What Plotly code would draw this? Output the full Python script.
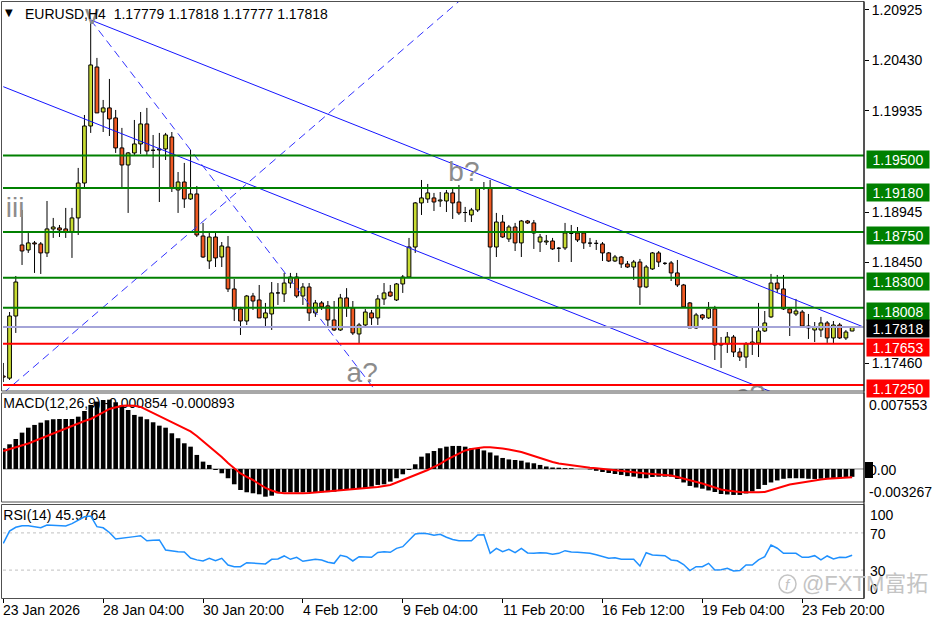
import plotly.graph_objects as go

# ---------------- data ----------------
symbol = "EURUSD,H4"
last_ohlc = [1.17779, 1.17818, 1.17777, 1.17818]

opens = [
    1.17338, 1.17317, 1.17926, 1.18622, 1.18573, 1.18642, 1.18632, 1.18544, 1.18779, 1.18789,
    1.18779, 1.18749, 1.18887, 1.19229, 1.19788, 1.20366, 1.19925, 1.19965, 1.19867, 1.19573,
    1.19406, 1.19524, 1.19612, 1.19808, 1.19553, 1.19553, 1.19563, 1.19680, 1.19161, 1.19239,
    1.19073, 1.19122, 1.18710, 1.18465, 1.18700, 1.18504, 1.18602, 1.18191, 1.17995, 1.17877,
    1.18122, 1.18083, 1.17907, 1.17946, 1.18152, 1.18142, 1.18249, 1.18308, 1.18122, 1.18210,
    1.17956, 1.18054, 1.18025, 1.17887, 1.17789, 1.18103, 1.18005, 1.17750, 1.17838, 1.17956,
    1.17907, 1.18093, 1.18161, 1.18083, 1.18240, 1.18308, 1.18602, 1.19034, 1.19073, 1.19083,
    1.19053, 1.19053, 1.19132, 1.19043, 1.18945, 1.18916, 1.18965, 1.19181, 1.19181, 1.18602,
    1.18847, 1.18681, 1.18798, 1.18642, 1.18857, 1.18838, 1.18651, 1.18651, 1.18661, 1.18593,
    1.18593, 1.18739, 1.18739, 1.18739, 1.18642, 1.18642, 1.18632, 1.18544, 1.18465, 1.18504,
    1.18436, 1.18406, 1.18455, 1.18210, 1.18387, 1.18544, 1.18446, 1.18446, 1.18348, 1.18230,
    1.18054, 1.17809, 1.17936, 1.17907, 1.17995, 1.17652, 1.17652, 1.17720, 1.17573, 1.17524,
    1.17652, 1.17662, 1.17779, 1.17917, 1.18249, 1.18191, 1.17995, 1.17946, 1.17965, 1.17828,
    1.17789, 1.17789, 1.17858, 1.17711, 1.17838, 1.17711, 1.17779,
]
highs = [
    1.17466, 1.17965, 1.18318, 1.18965, 1.18739, 1.18661, 1.18651, 1.19053, 1.18887, 1.18818,
    1.18985, 1.18985, 1.19377, 1.19896, 1.20827, 1.20455, 1.20043, 1.20249, 1.19945, 1.19769,
    1.19533, 1.19847, 1.19925, 1.19965, 1.19700, 1.19720, 1.19720, 1.19729, 1.19337, 1.19426,
    1.19553, 1.19200, 1.18838, 1.18739, 1.18739, 1.18651, 1.18710, 1.18289, 1.18015, 1.18132,
    1.18152, 1.18230, 1.18054, 1.18259, 1.18249, 1.18348, 1.18348, 1.18348, 1.18249, 1.18249,
    1.18083, 1.18073, 1.18073, 1.18073, 1.18142, 1.18199, 1.18073, 1.17858, 1.17995, 1.17985,
    1.18132, 1.18249, 1.18230, 1.18249, 1.18328, 1.18691, 1.19043, 1.19259, 1.19220, 1.19132,
    1.19141, 1.19161, 1.19181, 1.19210, 1.18995, 1.18985, 1.19190, 1.19239, 1.19259, 1.18936,
    1.18916, 1.18818, 1.18838, 1.18867, 1.18867, 1.18867, 1.18730, 1.18720, 1.18691, 1.18602,
    1.18838, 1.18818, 1.18798, 1.18739, 1.18691, 1.18671, 1.18651, 1.18553, 1.18524, 1.18514,
    1.18465, 1.18475, 1.18485, 1.18426, 1.18553, 1.18563, 1.18455, 1.18465, 1.18475, 1.18240,
    1.18063, 1.17956, 1.17946, 1.18063, 1.18025, 1.17720, 1.17769, 1.17740, 1.17613, 1.17671,
    1.17809, 1.18054, 1.17975, 1.18338, 1.18328, 1.18328, 1.18005, 1.18093, 1.17985, 1.17946,
    1.17867, 1.17917, 1.17877, 1.17877, 1.17858, 1.17789, 1.17818,
]
lows = [
    1.17279, 1.17299, 1.17760, 1.18426, 1.18544, 1.18348, 1.18338, 1.18504, 1.18691, 1.18700,
    1.18691, 1.18495, 1.18720, 1.19181, 1.19720, 1.19916, 1.19729, 1.19690, 1.19524, 1.19190,
    1.18936, 1.19504, 1.19514, 1.19504, 1.19377, 1.19043, 1.19455, 1.19141, 1.18936, 1.18985,
    1.19063, 1.18700, 1.18495, 1.18387, 1.18406, 1.18406, 1.18161, 1.17877, 1.17740, 1.17838,
    1.17985, 1.17907, 1.17809, 1.17789, 1.18034, 1.18063, 1.18199, 1.18103, 1.18034, 1.17877,
    1.17917, 1.17985, 1.17809, 1.17779, 1.17779, 1.17917, 1.17740, 1.17652, 1.17828, 1.17838,
    1.17838, 1.18034, 1.18113, 1.18073, 1.18152, 1.18308, 1.18544, 1.18916, 1.19034, 1.18955,
    1.18995, 1.18945, 1.18877, 1.18916, 1.18847, 1.18847, 1.18945, 1.19161, 1.18308, 1.18504,
    1.18691, 1.18651, 1.18563, 1.18504, 1.18828, 1.18583, 1.18553, 1.18622, 1.18573, 1.18455,
    1.18573, 1.18455, 1.18651, 1.18583, 1.18602, 1.18573, 1.18465, 1.18455, 1.18455, 1.18397,
    1.18397, 1.18279, 1.18034, 1.18199, 1.18377, 1.18406, 1.18426, 1.18269, 1.18210, 1.18005,
    1.17809, 1.17799, 1.17887, 1.17897, 1.17495, 1.17417, 1.17564, 1.17524, 1.17485, 1.17417,
    1.17544, 1.17524, 1.17769, 1.17907, 1.18152, 1.17985, 1.17730, 1.17926, 1.17819, 1.17701,
    1.17671, 1.17720, 1.17662, 1.17662, 1.17701, 1.17691, 1.17777,
]
closes = [
    1.17327, 1.17926, 1.18259, 1.18563, 1.18642, 1.18632, 1.18544, 1.18779, 1.18798, 1.18769,
    1.18749, 1.18887, 1.19229, 1.19788, 1.20386, 1.19916, 1.19965, 1.19857, 1.19573, 1.19406,
    1.19524, 1.19612, 1.19808, 1.19543, 1.19550, 1.19563, 1.19700, 1.19181, 1.19239, 1.19073,
    1.19122, 1.18720, 1.18504, 1.18700, 1.18495, 1.18612, 1.18191, 1.17995, 1.17877, 1.18122,
    1.18073, 1.17907, 1.17956, 1.18152, 1.18152, 1.18249, 1.18308, 1.18122, 1.18210, 1.17956,
    1.18054, 1.18015, 1.17887, 1.17789, 1.18103, 1.18005, 1.17760, 1.17838, 1.17965, 1.17907,
    1.18093, 1.18152, 1.18122, 1.18240, 1.18308, 1.18602, 1.19034, 1.19083, 1.19132, 1.19043,
    1.19063, 1.19132, 1.19034, 1.18936, 1.18940, 1.18965, 1.19181, 1.19185, 1.18602, 1.18847,
    1.18700, 1.18798, 1.18642, 1.18857, 1.18838, 1.18739, 1.18700, 1.18661, 1.18583, 1.18590,
    1.18739, 1.18735, 1.18671, 1.18642, 1.18640, 1.18638, 1.18544, 1.18465, 1.18504, 1.18436,
    1.18406, 1.18455, 1.18210, 1.18406, 1.18544, 1.18455, 1.18442, 1.18348, 1.18230, 1.18015,
    1.17809, 1.17936, 1.17907, 1.17995, 1.17642, 1.17642, 1.17720, 1.17573, 1.17524, 1.17652,
    1.17671, 1.17779, 1.17858, 1.18249, 1.18191, 1.17995, 1.17956, 1.17975, 1.17828, 1.17809,
    1.17819, 1.17858, 1.17711, 1.17838, 1.17711, 1.17769, 1.17818,
]

# MACD histogram and signal, in units of 1e-4
macd_hist_e4 = [
    22.6, 26.9, 32.7, 39.6, 45.0, 48.0, 50.5, 53.1, 54.2, 54.5,
    54.5, 54.5, 57.0, 63.2, 69.8, 73.4, 75.2, 75.53, 72.7, 69.0,
    64.3, 58.9, 57.0, 54.2, 50.9, 47.2, 45.0, 38.9, 33.5, 28.0,
    24.3, 15.3, 8.0, 4.4, -1.1, -4.7, -10.1, -16.7, -22.9, -25.4,
    -26.5, -27.6, -30.2, -29.1, -26.5, -25.4, -25.5, -25.6, -25.4, -25.5,
    -25.4, -25.3, -25.2, -24.7, -24.0, -22.9, -22.8, -21.8, -21.0, -19.3,
    -17.4, -16.7, -13.8, -10.1, -5.8, -1.1, 5.1, 13.4, 17.1, 19.6,
    22.6, 24.3, 25.1, 25.1, 24.3, 22.6, 22.3, 20.2, 18.0, 14.7,
    12.0, 10.4, 9.8, 9.0, 7.1, 6.2, 4.4, 2.7, 1.6, 1.4,
    0.9, 0.8, 0.2, -0.1, -0.5, -2.0, -3.3, -4.4, -5.5, -6.5,
    -7.8, -8.4, -10.1, -10.1, -8.7, -8.4, -8.4, -8.4, -10.9, -14.7,
    -18.5, -20.2, -21.5, -23.4, -25.1, -27.3, -27.8, -28.3, -28.3, -26.7,
    -24.5, -21.8, -17.4, -14.7, -12.5, -10.7, -10.1, -10.1, -10.1, -10.7,
    -10.9, -10.6, -10.1, -10.1, -10.0, -9.8, -8.54,
]
macd_signal_e4 = [
    19.6, 21.6, 23.5, 25.6, 27.8, 30.5, 33.2, 36.0, 38.7, 41.4,
    44.7, 47.4, 50.1, 52.3, 54.5, 57.8, 61.6, 65.4, 67.6, 69.0,
    69.2, 69.0, 67.6, 64.3, 61.0, 57.8, 54.5, 51.2, 48.0, 44.7,
    40.9, 36.0, 30.5, 25.1, 19.1, 13.1, 6.5, 0.5, -4.9, -8.7,
    -12.0, -16.4, -20.7, -23.4, -25.6, -26.5, -26.7, -26.7, -26.5, -26.2,
    -25.6, -25.1, -24.5, -24.0, -23.4, -22.9, -22.3, -21.8, -21.0, -20.2,
    -19.6, -18.5, -17.4, -14.7, -12.0, -9.8, -7.1, -3.8, -1.1, 2.2,
    5.5, 9.8, 13.1, 16.4, 20.2, 21.8, 22.9, 23.7, 23.7, 23.4,
    22.3, 21.3, 20.2, 18.5, 16.4, 14.2, 12.0, 9.3, 7.6, 6.0,
    4.9, 3.8, 2.7, 2.2, 1.3, 0.8, 0.0, -0.8, -1.6, -2.5,
    -3.3, -3.8, -4.4, -4.9, -5.5, -6.0, -6.5, -7.1, -8.7, -10.4,
    -12.0, -13.8, -15.8, -18.0, -20.2, -22.3, -23.4, -24.5, -25.1, -25.4,
    -25.6, -25.4, -25.1, -22.9, -20.7, -18.5, -16.9, -15.8, -14.7, -13.1,
    -12.0, -11.4, -10.7, -10.1, -9.8, -9.3, -8.93,
]
rsi_values = [
    58.8, 72.0, 76.0, 77.7, 77.7, 76.5, 75.6, 78.5, 78.0, 77.5,
    77.4, 80.0, 84.0, 87.4, 88.2, 76.7, 75.5, 70.5, 63.4, 64.5,
    65.2, 66.0, 67.0, 61.6, 62.0, 62.4, 51.6, 50.5, 49.8, 49.5,
    43.0, 41.0, 39.8, 42.7, 40.1, 42.7, 35.5, 33.7, 33.7, 38.0,
    37.3, 37.0, 36.6, 41.6, 41.9, 45.2, 41.6, 43.8, 39.5, 40.5,
    41.6, 40.9, 38.5, 37.3, 45.9, 44.4, 39.8, 44.4, 43.8, 43.8,
    49.0, 49.8, 49.1, 53.4, 55.2, 62.0, 68.8, 69.6, 69.0, 67.4,
    68.5, 65.3, 63.0, 61.6, 61.6, 61.6, 67.7, 68.0, 48.0, 53.4,
    49.8, 52.3, 48.7, 53.4, 48.5, 48.0, 48.7, 48.5, 47.0, 48.0,
    50.9, 49.5, 49.1, 48.5, 48.0, 46.5, 44.4, 42.7, 43.3, 41.6,
    41.6, 41.6, 34.4, 48.7, 46.2, 46.0, 45.5, 40.9, 40.0, 36.0,
    29.4, 33.7, 33.7, 37.3, 30.1, 30.5, 31.9, 29.0, 29.5, 35.5,
    35.5, 41.0, 44.5, 57.0, 53.5, 48.0, 48.0, 48.0, 43.8, 43.8,
    45.5, 40.9, 45.2, 41.9, 43.8, 43.5, 45.9764,
]

green_levels = [1.19500, 1.19180, 1.18750, 1.18300, 1.18008]
red_levels = [1.17653, 1.17250]
bid_price = 1.17818

price_ticks = [1.20925, 1.20430, 1.19935, 1.18945, 1.18450, 1.17460]
macd_axis_labels = ["0.007553", "0.00", "-0.003267"]
rsi_axis_labels = ["100", "70", "30", "0"]
rsi_levels = [70, 30]

time_tick_bars = [0, 16, 32, 48, 64, 80, 96, 112, 128]
time_tick_labels = ["23 Jan 2026", "28 Jan 04:00", "30 Jan 20:00", "4 Feb 12:00",
                    "9 Feb 04:00", "11 Feb 20:00", "16 Feb 12:00", "19 Feb 04:00",
                    "23 Feb 20:00"]

# trend lines: (bar, price) anchor pairs
channel_upper = ([14, 138], [1.20827, 1.17814])
channel_lower = ([0, 124], [1.20173, 1.17160])
fan_down = ([14, 60], [1.20827, 1.17165])
fan_up = ([0, 74], [1.17170, 1.21062])

wave_labels = ["v", "iii", "b?", "a?", "c?"]

# ---------------- layout helpers ----------------
W, H = 936, 624
L_PX, R_PX, T_PX, B_PX = 3, 864, 2, 598
FONT = "Liberation Sans, Arial, sans-serif"


def xp(px):
    return (px - L_PX) / (R_PX - L_PX)


def yp(py):
    return (B_PX - py) / (B_PX - T_PX)


N = len(opens)
bars = list(range(N))
XR = [-0.05, 137.9]
macd_hist = [v * 1e-4 for v in macd_hist_e4]
macd_signal = [v * 1e-4 for v in macd_signal_e4]

fig = go.Figure()

# ---- price panel ----
wx, wy = [], []
for i in bars:
    wx += [i, i, None]
    wy += [lows[i], highs[i], None]
fig.add_trace(go.Scatter(x=wx, y=wy, mode="lines", line=dict(color="black", width=1),
                         xaxis="x", yaxis="y", hoverinfo="skip"))

HW = 0.3


def body_polys(bull):
    bx, by = [], []
    for i in bars:
        o, c = opens[i], closes[i]
        if (c >= o) != bull:
            continue
        lo, hi = min(o, c), max(o, c)
        bx += [i - HW, i + HW, i + HW, i - HW, i - HW, None]
        by += [lo, lo, hi, hi, lo, None]
    return bx, by


for bull, col in [(True, "#c8dc32"), (False, "#f05a23")]:
    bx, by = body_polys(bull)
    fig.add_trace(go.Scatter(x=bx, y=by, mode="lines", fill="toself", fillcolor=col,
                             line=dict(color="black", width=1), xaxis="x", yaxis="y",
                             hoverinfo="skip"))

for (lx, ly) in [channel_upper, channel_lower]:
    fig.add_trace(go.Scatter(x=lx, y=ly, mode="lines", line=dict(color="#1515ff", width=1),
                             xaxis="x", yaxis="y", hoverinfo="skip"))
for (lx, ly) in [fan_down, fan_up]:
    fig.add_trace(go.Scatter(x=lx, y=ly, mode="lines",
                             line=dict(color="#3232ff", width=1, dash="8px,5px"),
                             xaxis="x", yaxis="y", hoverinfo="skip"))

# wave labels (grey text in the price panel)
wave_pos = [(14.2, 1.20860), (1.9, 1.18969), (73.8, 1.19314), (57.5, 1.17352), (119.7, 1.17130)]
for txt, (bx_, py_) in zip(wave_labels, wave_pos):
    fig.add_trace(go.Scatter(x=[bx_], y=[py_], mode="text", text=[txt],
                             textposition="middle center",
                             textfont=dict(family=FONT, size=28, color="#8c8c8c"),
                             cliponaxis=True, xaxis="x", yaxis="y", hoverinfo="skip"))

# ---- MACD panel ----
fig.add_trace(go.Scatter(x=[0], y=[0.00698], mode="text",
                         text=["MACD(12,26,9) -0.000854 -0.000893"],
                         textposition="middle right",
                         textfont=dict(family=FONT, size=14, color="black"),
                         cliponaxis=False, xaxis="x2", yaxis="y2", hoverinfo="skip"))
hx, hy = [], []
for i in bars:
    hx += [i, i, None]
    hy += [0, macd_hist[i], None]
fig.add_trace(go.Scatter(x=hx, y=hy, mode="lines", line=dict(color="black", width=4.6),
                         xaxis="x2", yaxis="y2", hoverinfo="skip"))
fig.add_trace(go.Scatter(x=bars, y=macd_signal, mode="lines",
                         line=dict(color="#ff0000", width=2),
                         xaxis="x2", yaxis="y2", hoverinfo="skip"))

# ---- RSI panel ----
fig.add_trace(go.Scatter(x=[0], y=[87.5], mode="text", text=["RSI(14) 45.9764"],
                         textposition="middle right",
                         textfont=dict(family=FONT, size=14, color="black"),
                         cliponaxis=False, xaxis="x3", yaxis="y3", hoverinfo="skip"))
fig.add_trace(go.Scatter(x=bars, y=rsi_values, mode="lines",
                         line=dict(color="#1e90ff", width=1.5),
                         xaxis="x3", yaxis="y3", hoverinfo="skip"))

shapes = []
annotations = []

# horizontal levels
for lv in green_levels:
    shapes.append(dict(type="line", xref="paper", x0=0, x1=1, yref="y", y0=lv, y1=lv,
                       line=dict(color="#008000", width=2), layer="above"))
for lv in red_levels:
    shapes.append(dict(type="line", xref="paper", x0=0, x1=1, yref="y", y0=lv, y1=lv,
                       line=dict(color="#ff0000", width=2), layer="above"))
shapes.append(dict(type="line", xref="paper", x0=0, x1=1, yref="y", y0=bid_price, y1=bid_price,
                   line=dict(color="#a4a4d8", width=2), layer="above"))


def box_label(val, bg, shift):
    annotations.append(dict(xref="paper", x=xp(866), xanchor="left", yref="y", y=val,
                            yanchor="middle", yshift=shift, text=f"{val:.5f}",
                            showarrow=False, bgcolor=bg, borderpad=1, width=60, height=15,
                            align="center", font=dict(family=FONT, size=14, color="white")))


for lv in green_levels:
    box_label(lv, "#008000", -4)
for lv in red_levels:
    box_label(lv, "#ff0000", -4)
box_label(bid_price, "#000000", -1)

# MACD zero line, RSI levels
shapes.append(dict(type="line", xref="paper", x0=0, x1=1, yref="y2", y0=0, y1=0,
                   line=dict(color="#808080", width=1), layer="below"))
for lv in rsi_levels:
    shapes.append(dict(type="line", xref="paper", x0=0, x1=1, yref="y3", y0=lv, y1=lv,
                       line=dict(color="#c0c0c0", width=1, dash="dot"), layer="below"))

# panel frames
for (t, b) in [(1.5, 391), (393, 502), (504.5, 598.5)]:
    shapes.append(dict(type="rect", xref="paper", yref="paper", x0=xp(1.5), x1=xp(864),
                       y0=yp(b), y1=yp(t), line=dict(color="#505050", width=1),
                       fillcolor="rgba(0,0,0,0)", layer="above"))
shapes.append(dict(type="line", xref="paper", yref="paper", x0=xp(864), x1=xp(864),
                   y0=yp(598.5), y1=yp(1.5), line=dict(color="black", width=1), layer="above"))
# small black marker box at MACD zero label
shapes.append(dict(type="rect", xref="paper", yref="paper", x0=xp(865), x1=xp(873),
                   y0=yp(478), y1=yp(462), line=dict(width=0), fillcolor="black", layer="above"))

# MACD axis labels
for txt, py in zip(macd_axis_labels, [405, 470, 492]):
    annotations.append(dict(xref="paper", x=xp(867), xanchor="left", yref="paper", y=yp(py),
                            yanchor="middle", text=txt, showarrow=False,
                            font=dict(family=FONT, size=14, color="black")))
# RSI axis labels
for txt, py in zip(rsi_axis_labels, [515, 534, 571, 589]):
    annotations.append(dict(xref="paper", x=xp(868), xanchor="left", yref="paper", y=yp(py),
                            yanchor="middle", text=txt, showarrow=False,
                            font=dict(family=FONT, size=14, color="black")))

# time axis labels
for b, txt in zip(time_tick_bars, time_tick_labels):
    annotations.append(dict(xref="x3", x=b, xanchor="left", xshift=-2, yref="paper",
                            y=yp(610), yanchor="middle", text=txt, showarrow=False,
                            font=dict(family=FONT, size=14, color="black")))

# header
annotations.append(dict(xref="paper", x=xp(9), xanchor="center", yref="paper", y=yp(13),
                        yanchor="middle", text="▼", showarrow=False,
                        font=dict(family="DejaVu Sans", size=10, color="black")))
annotations.append(dict(xref="paper", x=xp(23), xanchor="left", yref="paper", y=yp(14),
                        yanchor="middle",
                        text=symbol + "\u00a0 " + " ".join(f"{v:.5f}" for v in last_ohlc),
                        showarrow=False, font=dict(family=FONT, size=14, color="black")))

# watermark
shapes.append(dict(type="circle", xref="paper", yref="paper", x0=xp(779), x1=xp(796),
                   y0=yp(593), y1=yp(575), line=dict(color="#c4c4c4", width=1.5), layer="above"))
annotations.append(dict(xref="paper", x=xp(787.5), xanchor="center", yref="paper", y=yp(584),
                        yanchor="middle", text="<i>f</i>", showarrow=False,
                        font=dict(family=FONT, size=15, color="#c4c4c4")))
annotations.append(dict(xref="paper", x=xp(800), xanchor="left", yref="paper", y=yp(583),
                        yanchor="middle", text="@FXTM富拓", showarrow=False,
                        font=dict(family="Liberation Sans, Noto Sans CJK SC", size=22,
                                  color="#c4c4c4")))

axis_common = dict(showgrid=False, zeroline=False, showline=False, fixedrange=True)
fig.update_layout(
    width=W, height=H, autosize=False,
    margin=dict(l=L_PX, r=W - R_PX, t=T_PX, b=H - B_PX, pad=0),
    paper_bgcolor="white", plot_bgcolor="white",
    showlegend=False, hovermode=False,
    xaxis=dict(domain=[0, 1], range=XR, anchor="y", showticklabels=False, ticks="", **axis_common),
    xaxis2=dict(domain=[0, 1], range=XR, anchor="y2", matches="x", showticklabels=False,
                ticks="", **axis_common),
    xaxis3=dict(domain=[0, 1], range=XR, anchor="y3", matches="x", showticklabels=False,
                tickmode="array", tickvals=time_tick_bars, ticks="outside", ticklen=4,
                tickcolor="black", **axis_common),
    yaxis=dict(domain=[yp(391), yp(2)], range=[1.17191, 1.21003], side="right", anchor="x",
               tickmode="array", tickvals=price_ticks, ticktext=[f"{v:.5f}" for v in price_ticks],
               ticks="outside", ticklen=4, tickcolor="black",
               tickfont=dict(family=FONT, size=14, color="black"), **axis_common),
    yaxis2=dict(domain=[yp(502), yp(393)], range=[-0.00360, 0.00828], side="right",
                anchor="x2", showticklabels=False, ticks="", **axis_common),
    yaxis3=dict(domain=[0, yp(505)], range=[0, 100], side="right", anchor="x3",
                showticklabels=False, ticks="", **axis_common),
    shapes=shapes, annotations=annotations,
)

fig.write_html("out.html", config={"displayModeBar": False, "staticPlot": True},
               post_script="document.body.style.margin='0';document.body.style.overflow='hidden';")
